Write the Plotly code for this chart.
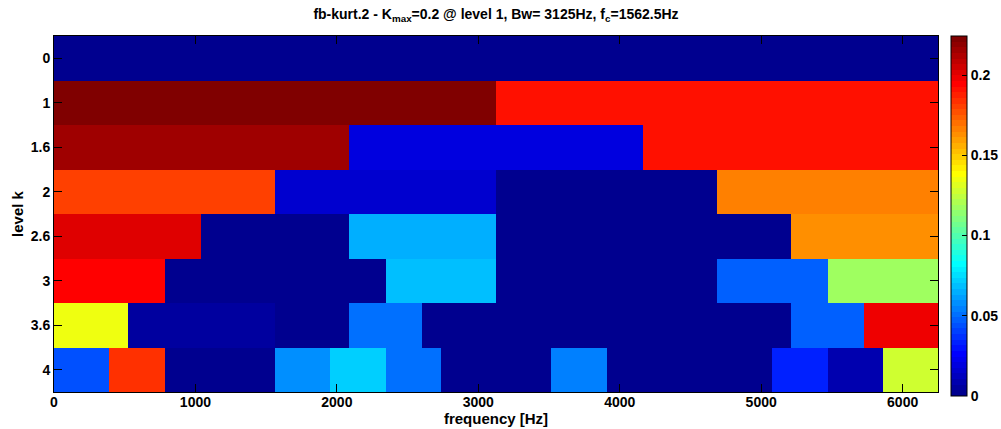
import numpy as np
import plotly.graph_objects as go

levels = ["0", "1", "1.6", "2", "2.6", "3", "3.6", "4"]
k_0 = [0.0]
k_1 = [0.224, 0.191]
k_1_6 = [0.2155, 0.0193, 0.191]
k_2 = [0.180, 0.0158, 0.001, 0.1665]
k_2_6 = [0.2015, 0.002, 0.0648, 0.001, 0.001, 0.163]
k_3 = [0.1945, 0.001, 0.002, 0.0683, 0.001, 0.001, 0.0473, 0.1174]
k_3_6 = [0.135, 0.0053, 0.0053, 0.001, 0.0508, 0.001, 0.001, 0.001, 0.001, 0.001, 0.0473, 0.198]
k_4 = [0.0438, 0.184, 0.001, 0.001, 0.0578, 0.0718, 0.0508, 0.001,
       0.001, 0.0543, 0.001, 0.001, 0.001, 0.0333, 0.0088, 0.128]
f_max = 6250.0
k_max = 0.2243
x_ticks = [0, 1000, 2000, 3000, 4000, 5000, 6000]
cb_ticks = [0, 0.05, 0.1, 0.15, 0.2]
cb_labels = ["0", "0.05", "0.1", "0.15", "0.2"]

rows = [k_0, k_1, k_1_6, k_2, k_2_6, k_3, k_3_6, k_4]
ncol = 48
z = []
for r in rows:
    rep = ncol // len(r)
    z.append([v for v in r for _ in range(rep)])
x_edges = np.linspace(0, f_max, ncol + 1)
y_edges = np.arange(len(levels) + 1) - 0.5


def jet(v):
    r = min(max(1.5 - abs(4 * v - 3), 0), 1)
    g = min(max(1.5 - abs(4 * v - 2), 0), 1)
    b = min(max(1.5 - abs(4 * v - 1), 0), 1)
    return "rgb(%d,%d,%d)" % (round(r * 255), round(g * 255), round(b * 255))


N = 64
cs = []
for i in range(N):
    c = jet((i + 1) / N)
    cs.append([i / N, c])
    cs.append([(i + 1) / N, c])

FAM = "Liberation Sans, Arial, sans-serif"
tick_font = dict(family=FAM, size=14, color="black", weight="bold")
lab_font = dict(family=FAM, size=15, color="black", weight="bold")

fig = go.Figure(go.Heatmap(
    z=z, x=x_edges, y=y_edges, zmin=0, zmax=k_max, colorscale=cs,
    colorbar=dict(
        x=(951 - 54) / 884, xanchor="left", xpad=0,
        y=1, yanchor="top", ypad=0, lenmode="pixels", len=360,
        thickness=16, outlinecolor="black", outlinewidth=1,
        tickvals=cb_ticks, ticktext=cb_labels,
        ticks="inside", ticklen=5, tickcolor="black", tickfont=tick_font,
    ),
))

fig.update_layout(
    width=1001, height=429,
    margin=dict(l=54, r=63, t=36, b=37, autoexpand=False),
    paper_bgcolor="white", plot_bgcolor="white",
    font=lab_font,
    title=dict(text="fb-kurt.2 - K<sub>max</sub>=0.2 @ level 1, Bw= 3125Hz, f<sub>c</sub>=1562.5Hz",
               x=(54 + 938) / 2 / 1001, xanchor="center", y=1 - 14 / 429, yanchor="middle",
               font=dict(family=FAM, size=14, color="black", weight="bold")),
    xaxis=dict(range=[0, f_max], tickvals=x_ticks, ticks="inside", ticklen=8, tickcolor="black",
               tickfont=tick_font, ticklabelstandoff=-3,
               showline=True, linecolor="black", linewidth=1, mirror="ticks", showgrid=False,
               zeroline=False, title=dict(text="frequency [Hz]", standoff=0, font=lab_font)),
    yaxis=dict(range=[len(levels) - 0.5, -0.5], tickvals=list(range(len(levels))), ticktext=levels,
               tickfont=tick_font,
               ticks="inside", ticklen=8, tickcolor="black",
               showline=True, linecolor="black", linewidth=1, mirror="ticks", showgrid=False,
               zeroline=False, title=dict(text="level k", standoff=3, font=lab_font)),
)

fig.write_html("out.html")
